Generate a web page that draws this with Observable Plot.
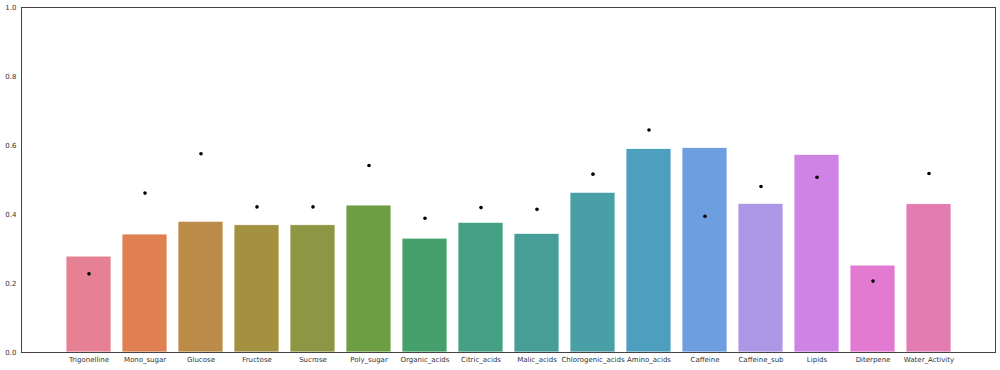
<!DOCTYPE html>
<html>
<head>
<meta charset="utf-8">
<script src="https://cdn.jsdelivr.net/npm/d3@7"></script>
<script src="https://cdn.jsdelivr.net/npm/@observablehq/plot@0.6"></script>
<style>
  body { margin: 0; background: #fff; }
  #chart svg { display: block; font-family: "DejaVu Sans", sans-serif; }
</style>
</head>
<body>
<div id="chart"></div>
<script>
const categories = ["Trigonelline","Mono_sugar","Glucose","Fructose","Sucrose","Poly_sugar","Organic_acids","Citric_acids","Malic_acids","Chlorogenic_acids","Amino_acids","Caffeine","Caffeine_sub","Lipids","Diterpene","Water_Activity"];
const barValues = [0.278,0.342,0.379,0.369,0.369,0.426,0.330,0.376,0.344,0.463,0.590,0.593,0.431,0.573,0.252,0.430];
const dotValues = [0.228,0.462,0.576,0.422,0.422,0.542,0.389,0.420,0.415,0.517,0.645,0.395,0.481,0.508,0.207,0.519];
const barColors = ["#e68193","#e07f4f","#bc8b47","#a39140","#8d9642","#6e9e43","#44a06a","#44a085","#459e97","#489fa6","#4d9fbf","#6d9fe0","#ac97e6","#cf83e4","#e27ad2","#e37cb0"];
const yTicks = [0, 0.2, 0.4, 0.6, 0.8, 1.0];

const data = categories.map((c, i) => ({cat: c, bar: barValues[i], dot: dotValues[i]}));

const chart = Plot.plot({
  width: 1000,
  height: 370,
  marginLeft: 21,
  marginRight: 5,
  marginTop: 7,
  marginBottom: 18,
  style: {fontSize: "7px", fontFamily: "DejaVu Sans, sans-serif", color: "#333"},
  x: {domain: categories, padding: 0.2, paddingOuter: 0.1, insetLeft: 39, insetRight: 38, label: null},
  y: {domain: [0, 1], label: null},
  color: {domain: categories, range: barColors},
  marks: [
    Plot.barY(data, {x: "cat", y: "bar", fill: "cat", stroke: "white", strokeWidth: 0.8}),
    Plot.dot(data, {x: "cat", y: "dot", r: 1.8, fill: "black"}),
    Plot.frame({stroke: "#444", strokeWidth: 1}),
    Plot.axisY(yTicks, {tickSize: 0, tickPadding: 5, tickFormat: d => d.toFixed(1), label: null, fill: "#333"}),
    Plot.axisX({tickSize: 0, tickPadding: 5, label: null, fill: "#333"})
  ]
});
document.getElementById("chart").appendChild(chart);
</script>
</body>
</html>
